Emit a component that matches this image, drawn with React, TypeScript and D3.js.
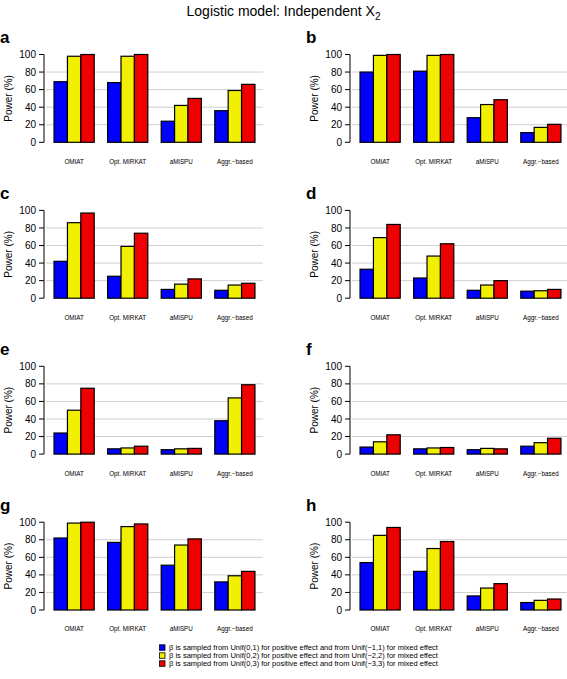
import React from "react";
import * as d3 from "d3";

const categories = ["OMIAT", "Opt. MIRKAT", "aMiSPU", "Aggr.\u2212based"];
const panelLabels = ["a", "b", "c", "d", "e", "f", "g", "h"];
// each panel: [category] values (power %) per series
const seriesUnif1 = [
  [69, 68, 24, 36],
  [80, 81, 28, 11],
  [42, 25, 10, 9],
  [33, 23, 9, 8],
  [24, 6, 5, 38],
  [8, 6, 5, 9],
  [82, 77, 51, 32],
  [54, 44, 16, 8.5],
];
const seriesUnif2 = [
  [98, 98, 42, 59],
  [99, 99, 43, 17],
  [86, 59, 16, 15],
  [69, 48, 15, 8.5],
  [50, 7, 6, 64],
  [14, 7, 6.5, 13],
  [99, 95, 74, 39],
  [85, 70, 25, 11],
];
const seriesUnif3 = [
  [100, 100, 50, 66],
  [100, 100, 48.5, 20.5],
  [97, 74, 22, 17],
  [84, 62, 20, 10],
  [75, 9, 6.5, 79],
  [22, 7.5, 6, 18],
  [100, 98, 81, 44],
  [94, 78, 30, 12.5],
];
const yTicks = [0, 20, 40, 60, 80, 100];
const gridTicks = [20, 40, 60, 80];
const legendLabels = [
  "\u03b2 is sampled from Unif(0,1) for positive effect and from Unif(\u22121,1) for mixed effect",
  "\u03b2 is sampled from Unif(0,2) for positive effect and from Unif(\u22122,2) for mixed effect",
  "\u03b2 is sampled from Unif(0,3) for positive effect and from Unif(\u22123,3) for mixed effect",
];
const colors = ["#0000ff", "#f0f000", "#ee0000"];

const FONT = "'Liberation Sans', Arial, Helvetica, sans-serif";
const W = 567;
const H = 679;

function Panel({ idx }: { idx: number }) {
  const col = idx % 2;
  const row = Math.floor(idx / 2);
  const dx = col * 306;
  const y0 = 142.3 + row * 155.9;
  const y100 = 54.5 + row * 155.9;
  const y = d3.scaleLinear().domain([0, 100]).range([y0, y100]);
  const x = d3.scaleLinear().domain([0.4, 16.6]).range([46 + dx, 263 + dx]);
  const series = [seriesUnif1[idx], seriesUnif2[idx], seriesUnif3[idx]];
  const axisX = 44 + dx;
  return (
    <g>
      <text x={dx + 0} y={y0 - 99} fontFamily={FONT} fontWeight="bold" fontSize={17}>
        {panelLabels[idx]}
      </text>
      {gridTicks.map((t) => (
        <line key={t} x1={x(0.4)} x2={x(16.6)} y1={y(t)} y2={y(t)} stroke="#cfcfcf" strokeWidth={1} />
      ))}
      {categories.map((c, i) =>
        series.map((s, j) => {
          const left = x(1 + 4 * i + j);
          const right = x(2 + 4 * i + j);
          return (
            <rect
              key={c + j}
              x={left}
              y={y(s[i])}
              width={right - left}
              height={y(0) - y(s[i])}
              fill={colors[j]}
              stroke="#000"
              strokeWidth={1.2}
            />
          );
        })
      )}
      {categories.map((c, i) => (
        <text
          key={c}
          x={(x(1 + 4 * i) + x(4 + 4 * i)) / 2}
          y={y0 + 21.4}
          textAnchor="middle"
          fontFamily={FONT}
          fontSize={6.3}
        >
          {c}
        </text>
      ))}
      <line x1={axisX} x2={axisX} y1={y(0)} y2={y(100)} stroke="#000" strokeWidth={1} />
      {yTicks.map((t) => (
        <g key={t}>
          <line x1={axisX - 5} x2={axisX} y1={y(t)} y2={y(t)} stroke="#000" strokeWidth={1} />
          <text
            x={axisX - 8}
            y={y(t) + 3.6}
            textAnchor="end"
            fontFamily={FONT}
            fontSize={10}
          >
            {t}
          </text>
        </g>
      ))}
      <text
        transform={`translate(${dx + 11.5},${(y0 + y100) / 2}) rotate(-90)`}
        textAnchor="middle"
        fontFamily={FONT}
        fontSize={10}
      >
        Power (%)
      </text>
    </g>
  );
}

export default function App() {
  return (
    <svg width={W} height={H} style={{ display: "block", position: "absolute", left: 0, top: 0 }}>
      <rect x={0} y={0} width={W} height={H} fill="#fff" />
      <text x={283.5} y={16} textAnchor="middle" fontFamily={FONT} fontSize={14}>
        Logistic model: Independent X
        <tspan fontSize={10} dy={4}>2</tspan>
      </text>
      {panelLabels.map((_, i) => (
        <Panel key={i} idx={i} />
      ))}
      {legendLabels.map((l, i) => (
        <g key={i}>
          <rect
            x={159.5}
            y={644.8 + i * 8}
            width={5.5}
            height={5.5}
            fill={colors[i]}
            stroke="#000"
            strokeWidth={0.8}
          />
          <text x={169} y={650.2 + i * 8} fontFamily={FONT} fontSize={7.5}>
            {l}
          </text>
        </g>
      ))}
    </svg>
  );
}
